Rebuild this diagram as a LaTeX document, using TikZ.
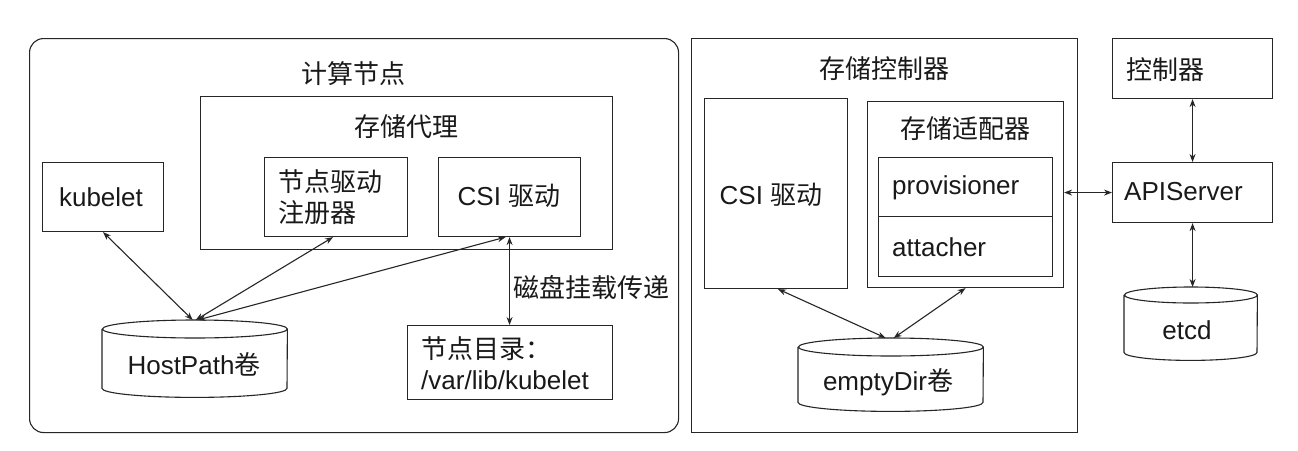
\documentclass[tikz,border=0pt]{standalone}
\usepackage{fontspec}
\setmainfont{Liberation Sans}
\newfontfamily\cjk{Noto Sans CJK SC}
\usetikzlibrary{arrows.meta,calc}
\newcommand\cylout[3]{%
  \draw[ln] ([yshift=-#3]#1.north west) -- ([yshift=#3]#1.south west)
    arc[start angle=180,end angle=360,x radius=#2,y radius=#3]
    -- ([yshift=-#3]#1.north east)
    arc[start angle=0,end angle=360,x radius=#2,y radius=#3];}
\begin{document}
\begin{tikzpicture}[x=1pt,y=-1pt,
  ln/.style={line width=1.1pt,draw=black!85},
  box/.style={ln,rectangle,inner sep=0pt,anchor=north west},
  cylbox/.style={rectangle,inner sep=0pt,anchor=north west},
  txt/.style={inner sep=0pt,font=\fontsize{26}{31}\selectfont,text=black!90},
  ltxt/.style={txt,anchor=west,align=left},
  arr/.style={ln,{Stealth[length=8pt,width=6pt]}-{Stealth[length=8pt,width=6pt]}}]
\useasboundingbox (0,0) rectangle (1298,450);
\fill[white] (0,0) rectangle (1298,450);
% compute node
\node[box,rounded corners=14pt,minimum width=649pt,minimum height=394pt] (compute) at (29,38) {};
\node[txt] (computeT) at (353,74) {\cjk 计算节点};
\node[box,minimum width=412pt,minimum height=153pt] (proxy) at (200,96) {};
\node[txt] (proxyT) at (406,127) {\cjk 存储代理};
\node[box,minimum width=143pt,minimum height=79pt] (reg) at (264,157) {};
\node[ltxt] (regT) at (278,197) {\cjk 节点驱动\\\cjk 注册器};
\node[box,minimum width=142pt,minimum height=79pt] (csiA) at (438,157) {};
\node[txt] (csiAT) at (509,196) {CSI {\cjk 驱动}};
\node[box,minimum width=121pt,minimum height=69pt] (kubelet) at (42,162) {};
\node[txt] (kubeletT) at (101,197) {kubelet};
\node[cylbox,minimum width=185pt,minimum height=77pt] (hp) at (102,320) {};
\cylout{hp}{92.5pt}{9pt}
\node[txt] (hpT) at (194,364) {HostPath{\cjk 卷}};
\node[box,minimum width=205pt,minimum height=74pt] (dir) at (407,325) {};
\node[ltxt] (dirT) at (421,363) {{\cjk 节点目录：}\\/var/lib/kubelet};
% storage controller
\node[box,minimum width=386pt,minimum height=394pt] (sc) at (691,38) {};
\node[txt] (scT) at (884,69) {\cjk 存储控制器};
\node[box,minimum width=143pt,minimum height=190pt] (csiB) at (704,98) {};
\node[txt] (csiBT) at (771,195) {CSI {\cjk 驱动}};
\node[box,minimum width=196pt,minimum height=186pt] (adapter) at (867,101) {};
\node[txt] (adapterT) at (965,129) {\cjk 存储适配器};
\node[box,minimum width=174pt,minimum height=59pt] (prov) at (878,157) {};
\node[ltxt] (provT) at (892,188) {provisioner};
\node[box,minimum width=174pt,minimum height=60pt] (att) at (878,216) {};
\node[ltxt] (attT) at (892,247) {attacher};
\node[cylbox,minimum width=185pt,minimum height=73pt] (ed) at (798,338) {};
\cylout{ed}{92.5pt}{9pt}
\node[txt] (edT) at (888,382) {emptyDir{\cjk 卷}};
% right column
\node[box,minimum width=160pt,minimum height=60pt] (ctrl) at (1112,38) {};
\node[ltxt] (ctrlT) at (1126,70) {\cjk 控制器};
\node[box,minimum width=160pt,minimum height=60pt] (api) at (1112,162) {};
\node[ltxt] (apiT) at (1124,192) {APIServer};
\node[cylbox,minimum width=133pt,minimum height=73pt] (etcd) at (1124,287) {};
\cylout{etcd}{66.5pt}{8pt}
\node[txt] (etcdT) at (1187,330) {etcd};
% connectors
\draw[arr] (kubelet.south) -- ([xshift=-2pt]hp.north);
\draw[arr] ([xshift=-3pt]reg.south) -- ([xshift=1pt]hp.north);
\draw[arr] ([xshift=-4pt]csiA.south) -- ([xshift=3pt]hp.north);
\draw[arr] (csiA.south) -- (csiA.south |- dir.north);
\node[txt,anchor=west] (mountT) at (513,288) {\cjk 磁盘挂载传递};
\draw[arr] ([xshift=2pt]csiB.south) -- ([xshift=-5pt]ed.north);
\draw[arr] (adapter.south) -- ([xshift=3pt]ed.north);
\draw[arr] (ctrl.south) -- (api.north);
\draw[arr] (api.south) -- (api.south |- etcd.north);
\draw[arr] (api.west -| adapter.east) -- (api.west);
\end{tikzpicture}
\end{document}
